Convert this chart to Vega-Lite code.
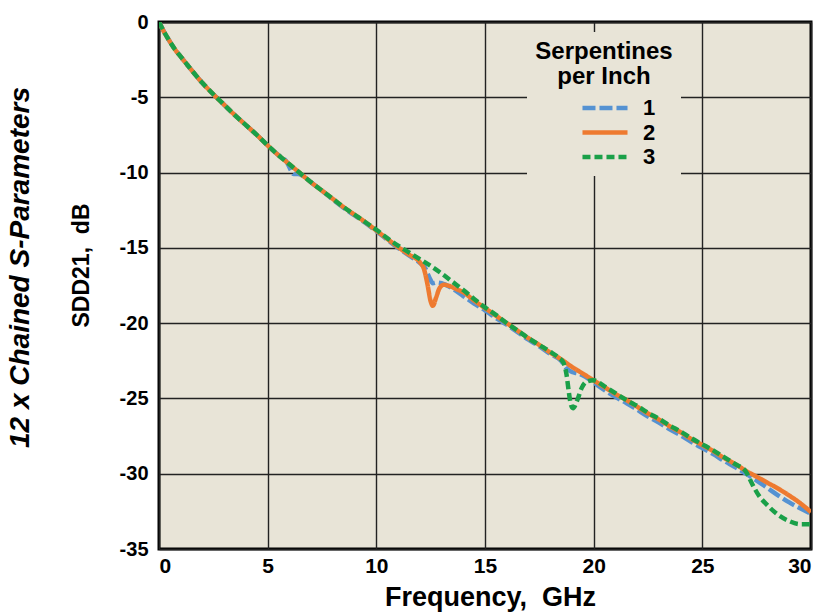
{
  "$schema": "https://vega.github.io/schema/vega-lite/v6.json",
  "width": 652,
  "height": 527,
  "autosize": "none",
  "padding": {"left": 159, "top": 22, "right": 6, "bottom": 63},
  "background": "white",
  "title": {
    "text": "12 x Chained S-Parameters",
    "orient": "left",
    "anchor": "middle",
    "frame": "group",
    "font": "Liberation Sans",
    "fontSize": 28,
    "fontStyle": "italic",
    "fontWeight": "bold",
    "color": "black",
    "baseline": "alphabetic",
    "offset": 13,
    "dx": 18
  },
  "config": {
    "view": {"fill": "#E8E4D7", "stroke": "black", "strokeWidth": 3},
    "axis": {"grid": true, "gridColor": "#222222", "gridWidth": 1.4, "gridOpacity": 1, "ticks": false, "tickSize": 0, "domain": false, "labelColor": "black", "titleColor": "black", "labelExpr": "replace(datum.label, '\u2212', '-')"},
    "legend": {"strokeColor": null}
  },
  "data": {"values": [
    {"s":"1","f":0,"v":0},{"s":"1","f":0.25,"v":-0.7},{"s":"1","f":0.5,"v":-1.3},{"s":"1","f":0.75,"v":-1.85},{"s":"1","f":1,"v":-2.3},{"s":"1","f":1.5,"v":-3.2},{"s":"1","f":2,"v":-4.05},{"s":"1","f":2.5,"v":-4.8},{"s":"1","f":3,"v":-5.5},{"s":"1","f":3.5,"v":-6.2},{"s":"1","f":4,"v":-6.85},{"s":"1","f":4.5,"v":-7.5},{"s":"1","f":5,"v":-8.2},{"s":"1","f":5.5,"v":-8.85},{"s":"1","f":5.9,"v":-9.35},{"s":"1","f":6.05,"v":-9.8},{"s":"1","f":6.2,"v":-10.1},{"s":"1","f":6.4,"v":-10.1},{"s":"1","f":6.6,"v":-10.2},{"s":"1","f":7,"v":-10.65},{"s":"1","f":7.5,"v":-11.2},{"s":"1","f":8,"v":-11.8},{"s":"1","f":8.5,"v":-12.35},{"s":"1","f":9,"v":-12.85},{"s":"1","f":9.5,"v":-13.35},{"s":"1","f":10,"v":-13.9},{"s":"1","f":10.5,"v":-14.45},{"s":"1","f":11,"v":-15.0},{"s":"1","f":11.5,"v":-15.5},{"s":"1","f":12,"v":-16.0},{"s":"1","f":12.25,"v":-16.35},{"s":"1","f":12.45,"v":-17.0},{"s":"1","f":12.6,"v":-17.35},{"s":"1","f":12.8,"v":-17.3},{"s":"1","f":13,"v":-17.35},{"s":"1","f":13.5,"v":-17.7},{"s":"1","f":14,"v":-18.2},{"s":"1","f":14.5,"v":-18.7},{"s":"1","f":15,"v":-19.15},{"s":"1","f":15.5,"v":-19.65},{"s":"1","f":16,"v":-20.1},{"s":"1","f":16.5,"v":-20.6},{"s":"1","f":17,"v":-21.1},{"s":"1","f":17.5,"v":-21.55},{"s":"1","f":18,"v":-22.05},{"s":"1","f":18.5,"v":-22.5},{"s":"1","f":18.75,"v":-23.0},{"s":"1","f":19,"v":-23.25},{"s":"1","f":19.3,"v":-23.35},{"s":"1","f":19.6,"v":-23.55},{"s":"1","f":20,"v":-23.95},{"s":"1","f":20.5,"v":-24.45},{"s":"1","f":21,"v":-24.9},{"s":"1","f":21.5,"v":-25.3},{"s":"1","f":22,"v":-25.75},{"s":"1","f":22.5,"v":-26.2},{"s":"1","f":23,"v":-26.6},{"s":"1","f":23.5,"v":-27.05},{"s":"1","f":24,"v":-27.45},{"s":"1","f":24.5,"v":-27.9},{"s":"1","f":25,"v":-28.3},{"s":"1","f":25.5,"v":-28.7},{"s":"1","f":26,"v":-29.15},{"s":"1","f":26.5,"v":-29.55},{"s":"1","f":27,"v":-30.0},{"s":"1","f":27.5,"v":-30.45},{"s":"1","f":28,"v":-30.95},{"s":"1","f":28.5,"v":-31.45},{"s":"1","f":29,"v":-31.9},{"s":"1","f":29.5,"v":-32.3},{"s":"1","f":30,"v":-32.65},

    {"s":"2","f":0,"v":0},{"s":"2","f":0.25,"v":-0.7},{"s":"2","f":0.5,"v":-1.3},{"s":"2","f":0.75,"v":-1.85},{"s":"2","f":1,"v":-2.3},{"s":"2","f":1.5,"v":-3.2},{"s":"2","f":2,"v":-4.05},{"s":"2","f":2.5,"v":-4.8},{"s":"2","f":3,"v":-5.5},{"s":"2","f":3.5,"v":-6.2},{"s":"2","f":4,"v":-6.85},{"s":"2","f":4.5,"v":-7.5},{"s":"2","f":5,"v":-8.2},{"s":"2","f":5.5,"v":-8.85},{"s":"2","f":6,"v":-9.45},{"s":"2","f":6.5,"v":-10.05},{"s":"2","f":7,"v":-10.65},{"s":"2","f":7.5,"v":-11.2},{"s":"2","f":8,"v":-11.75},{"s":"2","f":8.5,"v":-12.3},{"s":"2","f":9,"v":-12.8},{"s":"2","f":9.5,"v":-13.3},{"s":"2","f":10,"v":-13.85},{"s":"2","f":10.5,"v":-14.4},{"s":"2","f":11,"v":-14.95},{"s":"2","f":11.5,"v":-15.45},{"s":"2","f":12,"v":-15.95},{"s":"2","f":12.2,"v":-16.45},{"s":"2","f":12.35,"v":-17.4},{"s":"2","f":12.5,"v":-18.55},{"s":"2","f":12.6,"v":-18.85},{"s":"2","f":12.75,"v":-18.3},{"s":"2","f":12.9,"v":-17.7},{"s":"2","f":13.1,"v":-17.45},{"s":"2","f":13.4,"v":-17.55},{"s":"2","f":13.7,"v":-17.75},{"s":"2","f":14,"v":-17.95},{"s":"2","f":14.5,"v":-18.5},{"s":"2","f":15,"v":-19.0},{"s":"2","f":15.5,"v":-19.5},{"s":"2","f":16,"v":-20.0},{"s":"2","f":16.5,"v":-20.5},{"s":"2","f":17,"v":-21.0},{"s":"2","f":17.5,"v":-21.45},{"s":"2","f":18,"v":-21.95},{"s":"2","f":18.5,"v":-22.4},{"s":"2","f":19,"v":-22.9},{"s":"2","f":19.5,"v":-23.35},{"s":"2","f":20,"v":-23.8},{"s":"2","f":20.5,"v":-24.25},{"s":"2","f":21,"v":-24.7},{"s":"2","f":21.5,"v":-25.1},{"s":"2","f":22,"v":-25.55},{"s":"2","f":22.5,"v":-26.0},{"s":"2","f":23,"v":-26.4},{"s":"2","f":23.5,"v":-26.85},{"s":"2","f":24,"v":-27.25},{"s":"2","f":24.5,"v":-27.7},{"s":"2","f":25,"v":-28.1},{"s":"2","f":25.5,"v":-28.5},{"s":"2","f":26,"v":-28.95},{"s":"2","f":26.5,"v":-29.35},{"s":"2","f":27,"v":-29.8},{"s":"2","f":27.5,"v":-30.2},{"s":"2","f":28,"v":-30.6},{"s":"2","f":28.5,"v":-31.0},{"s":"2","f":29,"v":-31.45},{"s":"2","f":29.5,"v":-31.95},{"s":"2","f":30,"v":-32.55},

    {"s":"3","f":0,"v":0},{"s":"3","f":0.25,"v":-0.7},{"s":"3","f":0.5,"v":-1.3},{"s":"3","f":0.75,"v":-1.85},{"s":"3","f":1,"v":-2.3},{"s":"3","f":1.5,"v":-3.2},{"s":"3","f":2,"v":-4.05},{"s":"3","f":2.5,"v":-4.8},{"s":"3","f":3,"v":-5.5},{"s":"3","f":3.5,"v":-6.2},{"s":"3","f":4,"v":-6.85},{"s":"3","f":4.5,"v":-7.5},{"s":"3","f":5,"v":-8.2},{"s":"3","f":5.5,"v":-8.85},{"s":"3","f":6,"v":-9.45},{"s":"3","f":6.5,"v":-10.05},{"s":"3","f":7,"v":-10.65},{"s":"3","f":7.5,"v":-11.2},{"s":"3","f":8,"v":-11.75},{"s":"3","f":8.5,"v":-12.3},{"s":"3","f":9,"v":-12.8},{"s":"3","f":9.5,"v":-13.3},{"s":"3","f":10,"v":-13.8},{"s":"3","f":10.5,"v":-14.35},{"s":"3","f":11,"v":-14.85},{"s":"3","f":11.5,"v":-15.3},{"s":"3","f":12,"v":-15.75},{"s":"3","f":12.5,"v":-16.2},{"s":"3","f":13,"v":-16.7},{"s":"3","f":13.5,"v":-17.25},{"s":"3","f":14,"v":-17.8},{"s":"3","f":14.5,"v":-18.4},{"s":"3","f":15,"v":-18.95},{"s":"3","f":15.5,"v":-19.45},{"s":"3","f":16,"v":-20.0},{"s":"3","f":16.5,"v":-20.5},{"s":"3","f":17,"v":-21.0},{"s":"3","f":17.5,"v":-21.45},{"s":"3","f":18,"v":-21.9},{"s":"3","f":18.4,"v":-22.3},{"s":"3","f":18.6,"v":-22.6},{"s":"3","f":18.75,"v":-23.4},{"s":"3","f":18.85,"v":-24.5},{"s":"3","f":18.95,"v":-25.4},{"s":"3","f":19.05,"v":-25.65},{"s":"3","f":19.25,"v":-25.1},{"s":"3","f":19.45,"v":-24.3},{"s":"3","f":19.65,"v":-23.9},{"s":"3","f":20,"v":-23.8},{"s":"3","f":20.5,"v":-24.2},{"s":"3","f":21,"v":-24.65},{"s":"3","f":21.5,"v":-25.1},{"s":"3","f":22,"v":-25.5},{"s":"3","f":22.5,"v":-25.95},{"s":"3","f":23,"v":-26.35},{"s":"3","f":23.5,"v":-26.8},{"s":"3","f":24,"v":-27.2},{"s":"3","f":24.5,"v":-27.65},{"s":"3","f":25,"v":-28.05},{"s":"3","f":25.5,"v":-28.45},{"s":"3","f":26,"v":-28.9},{"s":"3","f":26.5,"v":-29.35},{"s":"3","f":27,"v":-29.85},{"s":"3","f":27.3,"v":-30.7},{"s":"3","f":27.6,"v":-31.45},{"s":"3","f":28,"v":-32.1},{"s":"3","f":28.5,"v":-32.75},{"s":"3","f":29,"v":-33.15},{"s":"3","f":29.5,"v":-33.35},{"s":"3","f":30,"v":-33.35}
  ]},
  "mark": {"type": "line", "strokeWidth": 4.5, "interpolate": "monotone", "clip": true},
  "encoding": {
    "x": {
      "field": "f", "type": "quantitative",
      "scale": {"domain": [0, 30], "nice": false, "zero": false},
      "axis": {
        "values": [0, 5, 10, 15, 20, 25, 30],
        "title": "Frequency,\u00a0 GHz",
        "titleFont": "Liberation Sans",
        "titleFontSize": 27,
        "titleFontWeight": "bold",
        "titleBaseline": "alphabetic",
        "titleX": 331,
        "titleY": 56,
        "labelFont": "Liberation Sans",
        "labelFontSize": 21,
        "labelFontWeight": "bold",
        "labelPadding": 6,
        "labelFlush": true
      }
    },
    "y": {
      "field": "v", "type": "quantitative",
      "scale": {"domain": [-35, 0], "nice": false, "zero": false},
      "axis": {
        "values": [0, -5, -10, -15, -20, -25, -30, -35],
        "title": "SDD21,\u00a0 dB",
        "titleFont": "Liberation Sans",
        "titleFontSize": 23,
        "titleFontWeight": "bold",
        "titleBaseline": "alphabetic",
        "titleAngle": 270,
        "titleX": -71,
        "titleY": 243,
        "labelFont": "Liberation Sans",
        "labelFontSize": 20,
        "labelFontWeight": "bold",
        "labelPadding": 11
      }
    },
    "color": {
      "field": "s", "type": "nominal",
      "scale": {"domain": ["1", "2", "3"], "range": ["#5592D2", "#EE7A30", "#1AA048"]},
      "legend": {
        "title": ["Serpentines", "per Inch"],
        "orient": "none",
        "legendX": 368,
        "legendY": 10,
        "padding": 8,
        "fillColor": "#E8E4D7",
        "titleFont": "Liberation Sans",
        "titleFontSize": 24,
        "titleFontWeight": "bold",
        "titleColor": "black",
        "titleLineHeight": 25,
        "titleAnchor": "middle",
        "titleAlign": "center",
        "titleBaseline": "top",
        "titlePadding": 8,
        "labelFont": "Liberation Sans",
        "labelFontSize": 22,
        "labelFontWeight": "bold",
        "labelColor": "black",
        "symbolType": "M-2.6,0H2.6",
        "symbolSize": 300,
        "symbolStrokeWidth": 4.5,
        "symbolOffset": 42,
        "labelOffset": 27,
        "rowPadding": 2.5
      }
    },
    "strokeDash": {
      "field": "s", "type": "nominal",
      "scale": {"domain": ["1", "2", "3"], "range": [[13, 4], [1, 0], [8, 4]]},
      "legend": {
        "title": ["Serpentines", "per Inch"],
        "orient": "none",
        "legendX": 368,
        "legendY": 10,
        "padding": 8,
        "fillColor": "#E8E4D7",
        "titleFont": "Liberation Sans",
        "titleFontSize": 24,
        "titleFontWeight": "bold",
        "titleColor": "black",
        "titleLineHeight": 25,
        "titleAnchor": "middle",
        "titleAlign": "center",
        "titleBaseline": "top",
        "titlePadding": 8,
        "labelFont": "Liberation Sans",
        "labelFontSize": 22,
        "labelFontWeight": "bold",
        "labelColor": "black",
        "symbolType": "M-2.6,0H2.6",
        "symbolSize": 300,
        "symbolStrokeWidth": 4.5,
        "symbolOffset": 42,
        "labelOffset": 27,
        "rowPadding": 2.5
      }
    }
  }
}
